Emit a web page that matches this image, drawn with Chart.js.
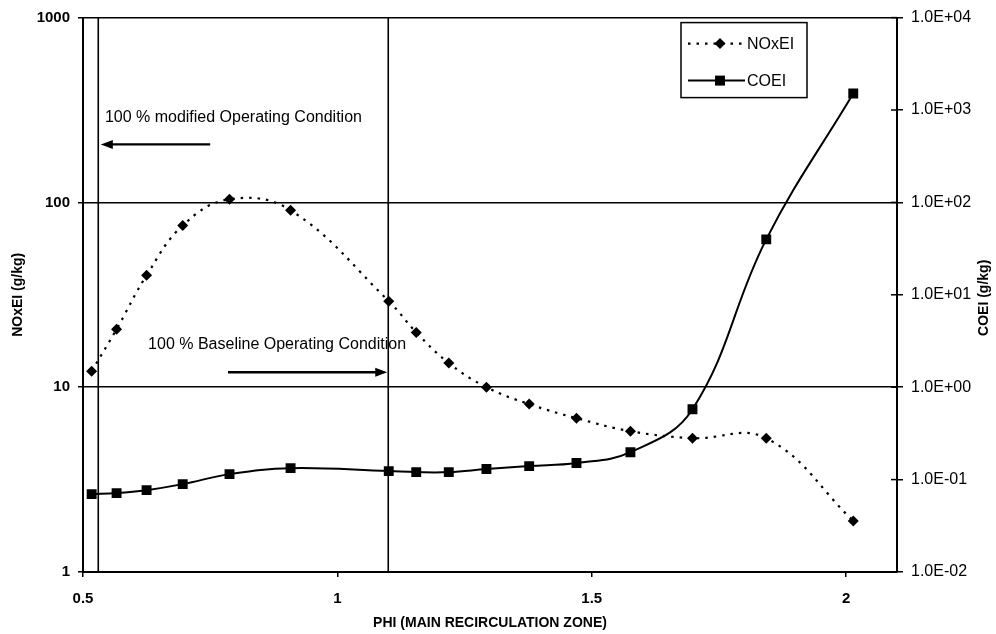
<!DOCTYPE html>
<html>
<head>
<meta charset="utf-8">
<script src="https://cdn.jsdelivr.net/npm/chart.js@4.4.1/dist/chart.umd.min.js"></script>
<style>
  html, body { margin: 0; padding: 0; background: #fff; }
  #wrap { width: 996px; height: 634px; position: relative; }
</style>
</head>
<body>
<div id="wrap"><canvas id="c" width="996" height="634"></canvas></div>
<script>
// ---- data ----
const phi   = [0.517, 0.566, 0.625, 0.696, 0.788, 0.908, 1.101, 1.155, 1.219, 1.293, 1.377, 1.470, 1.576, 1.698, 1.843, 2.014];
const noxEI = [12.2, 20.6, 40.3, 75, 104, 90.6, 29.2, 19.8, 13.5, 10.0, 8.1, 6.8, 5.78, 5.3, 5.3, 1.89];
const coEI  = [0.0697, 0.0714, 0.0769, 0.0893, 0.1146, 0.133, 0.1236, 0.1205, 0.1205, 0.130, 0.140, 0.151, 0.198, 0.578, 39.8, 1507];

const xTicks = [0.5, 1, 1.5, 2];
const xTickLabels = ['0.5', '1', '1.5', '2'];
const yTicks = [1, 10, 100, 1000];
const yTickLabels = ['1', '10', '100', '1000'];
const y2Ticks = [0.01, 0.1, 1, 10, 100, 1000, 10000];
const y2TickLabels = ['1.0E-02', '1.0E-01', '1.0E+00', '1.0E+01', '1.0E+02', '1.0E+03', '1.0E+04'];

const modifiedPhi = 0.53;
const baselinePhi = 1.10;
const modifiedText = '100 % modified Operating Condition';
const baselineText = '100 % Baseline Operating Condition';
// annotation anchors in data units (phi, NOxEI)
const modifiedArrow = { from: 0.75, to: 0.535, y: 206 };
const modifiedLabel = { x: 0.543, y: 288 };
const baselineArrow = { from: 0.785, to: 1.098, y: 12.05 };
const baselineLabel = { x: 0.628, y: 16.9 };

const FONT = "'Liberation Sans', Arial, Helvetica, sans-serif";

function pts(xs, ys) { return xs.map((x, i) => ({ x: x, y: ys[i] })); }

const annotPlugin = {
  id: 'annot',
  afterDatasetsDraw(chart) {
    const ctx = chart.ctx;
    const xs = chart.scales.x, ys = chart.scales.y, y2 = chart.scales.y2;
    const ca = chart.chartArea;
    ctx.save();
    // right axis inner cross ticks
    ctx.strokeStyle = '#000';
    ctx.lineWidth = 1.5;
    y2Ticks.forEach(v => {
      const py = y2.getPixelForValue(v);
      ctx.beginPath(); ctx.moveTo(ca.right - 6, py); ctx.lineTo(ca.right, py); ctx.stroke();
    });
    // arrows
    function arrow(a) {
      const x1 = xs.getPixelForValue(a.from), x2 = xs.getPixelForValue(a.to), py = ys.getPixelForValue(a.y);
      const dir = Math.sign(x2 - x1);
      ctx.strokeStyle = '#000'; ctx.fillStyle = '#000'; ctx.lineWidth = 2.4;
      ctx.beginPath(); ctx.moveTo(x1, py); ctx.lineTo(x2 - dir * 9, py); ctx.stroke();
      ctx.beginPath(); ctx.moveTo(x2, py); ctx.lineTo(x2 - dir * 12, py - 4.5); ctx.lineTo(x2 - dir * 12, py + 4.5); ctx.closePath(); ctx.fill();
    }
    arrow(modifiedArrow);
    arrow(baselineArrow);
    ctx.font = '16px ' + FONT;
    ctx.fillStyle = '#000';
    ctx.textAlign = 'left'; ctx.textBaseline = 'middle';
    ctx.fillText(modifiedText, xs.getPixelForValue(modifiedLabel.x), ys.getPixelForValue(modifiedLabel.y));
    ctx.fillText(baselineText, xs.getPixelForValue(baselineLabel.x), ys.getPixelForValue(baselineLabel.y));

    // legend box
    const lx = ca.right - 216, ly = ca.top + 5, lw = 126, lh = 75;
    ctx.fillStyle = '#fff';
    ctx.fillRect(lx, ly, lw, lh);
    ctx.strokeStyle = '#000'; ctx.lineWidth = 1.5;
    ctx.strokeRect(lx, ly, lw, lh);
    const r1 = ly + 21, r2 = ly + 58;
    // NOxEI entry
    ctx.lineWidth = 2.2; ctx.setLineDash([2.5, 6]);
    ctx.beginPath(); ctx.moveTo(lx + 7, r1); ctx.lineTo(lx + 64, r1); ctx.stroke();
    ctx.setLineDash([]);
    ctx.fillStyle = '#000';
    const dx = lx + 39;
    ctx.beginPath(); ctx.moveTo(dx, r1 - 5.5); ctx.lineTo(dx + 5.5, r1); ctx.lineTo(dx, r1 + 5.5); ctx.lineTo(dx - 5.5, r1); ctx.closePath(); ctx.fill();
    // COEI entry
    ctx.lineWidth = 2;
    ctx.beginPath(); ctx.moveTo(lx + 7, r2); ctx.lineTo(lx + 64, r2); ctx.stroke();
    ctx.fillRect(dx - 5, r2 - 5, 10, 10);
    ctx.font = '16px ' + FONT;
    ctx.textAlign = 'left'; ctx.textBaseline = 'middle';
    ctx.fillText('NOxEI', lx + 66, r1 + 1);
    ctx.fillText('COEI', lx + 66, r2 + 1);

    // right axis title (reads bottom-to-top)
    ctx.save();
    ctx.translate(984, (ca.top + ca.bottom) / 2 + 3);
    ctx.rotate(-Math.PI / 2);
    ctx.font = 'bold 14px ' + FONT;
    ctx.textAlign = 'center'; ctx.textBaseline = 'middle';
    ctx.fillText('COEI (g/kg)', 0, 0);
    ctx.restore();
    ctx.restore();
  }
};

new Chart(document.getElementById('c'), {
  type: 'line',
  data: {
    datasets: [
      {
        label: 'NOxEI', data: pts(phi, noxEI), yAxisID: 'y',
        borderColor: '#000', backgroundColor: '#000', borderWidth: 2.2, borderDash: [2.5, 6],
        pointStyle: 'rectRot', pointRadius: 5.5, pointBorderWidth: 0, tension: 0.4, fill: false, order: 1
      },
      {
        label: 'COEI', data: pts(phi, coEI), yAxisID: 'y2',
        borderColor: '#000', backgroundColor: '#000', borderWidth: 2,
        pointStyle: 'rect', pointRadius: 7, pointBorderWidth: 0, tension: 0.4, fill: false, order: 0
      },
      {
        label: 'modified', data: [{ x: modifiedPhi, y: yTicks[0] }, { x: modifiedPhi, y: yTicks[yTicks.length - 1] }], yAxisID: 'y',
        borderColor: '#000', borderWidth: 1.6, pointRadius: 0, tension: 0, fill: false
      },
      {
        label: 'baseline', data: [{ x: baselinePhi, y: yTicks[0] }, { x: baselinePhi, y: yTicks[yTicks.length - 1] }], yAxisID: 'y',
        borderColor: '#000', borderWidth: 1.6, pointRadius: 0, tension: 0, fill: false
      }
    ]
  },
  options: {
    responsive: false, animation: false, maintainAspectRatio: false,
    layout: { padding: { top: 17, left: 0, right: 0, bottom: 0 } },
    plugins: { legend: { display: false }, tooltip: { enabled: false } },
    scales: {
      x: {
        type: 'linear', min: 0.5, max: 2.1,
        afterBuildTicks: s => { s.ticks = xTicks.map(v => ({ value: v })); },
        afterFit: s => { s.height = 62; },
        ticks: { callback: (v) => xTickLabels[xTicks.indexOf(v)], color: '#000', font: { family: FONT, size: 15, weight: 'bold' }, padding: 13, maxRotation: 0 },
        grid: { drawOnChartArea: false, drawTicks: true, tickLength: 5, color: '#000', lineWidth: 1.5 },
        border: { display: true, color: '#000', width: 2 },
        title: { display: true, text: 'PHI (MAIN RECIRCULATION ZONE)', color: '#000', font: { family: FONT, size: 14, weight: 'bold' }, padding: { top: 0, bottom: 2 } }
      },
      y: {
        type: 'logarithmic', position: 'left', min: 1, max: 1000,
        afterBuildTicks: s => { s.ticks = yTicks.map(v => ({ value: v })); },
        afterFit: s => { s.width = 83; },
        ticks: { callback: (v) => yTickLabels[yTicks.indexOf(v)], color: '#000', font: { family: FONT, size: 15, weight: 'bold' }, padding: 8 },
        grid: { drawOnChartArea: true, drawTicks: true, tickLength: 5, color: '#000', lineWidth: 1.5 },
        border: { display: true, color: '#000', width: 2 },
        title: { display: true, text: 'NOxEI (g/kg)', color: '#000', font: { family: FONT, size: 14, weight: 'bold' }, padding: { top: 10, bottom: 0 } }
      },
      y2: {
        type: 'logarithmic', position: 'right', min: 0.01, max: 10000,
        afterBuildTicks: s => { s.ticks = y2Ticks.map(v => ({ value: v })); },
        afterFit: s => { s.width = 99; },
        ticks: { callback: (v) => y2TickLabels[y2Ticks.indexOf(v)], color: '#000', font: { family: FONT, size: 16 }, padding: 8 },
        grid: { drawOnChartArea: false, drawTicks: true, tickLength: 6, color: '#000', lineWidth: 1.5 },
        border: { display: true, color: '#000', width: 2 }
      }
    }
  },
  plugins: [annotPlugin]
});
</script>
</body>
</html>
